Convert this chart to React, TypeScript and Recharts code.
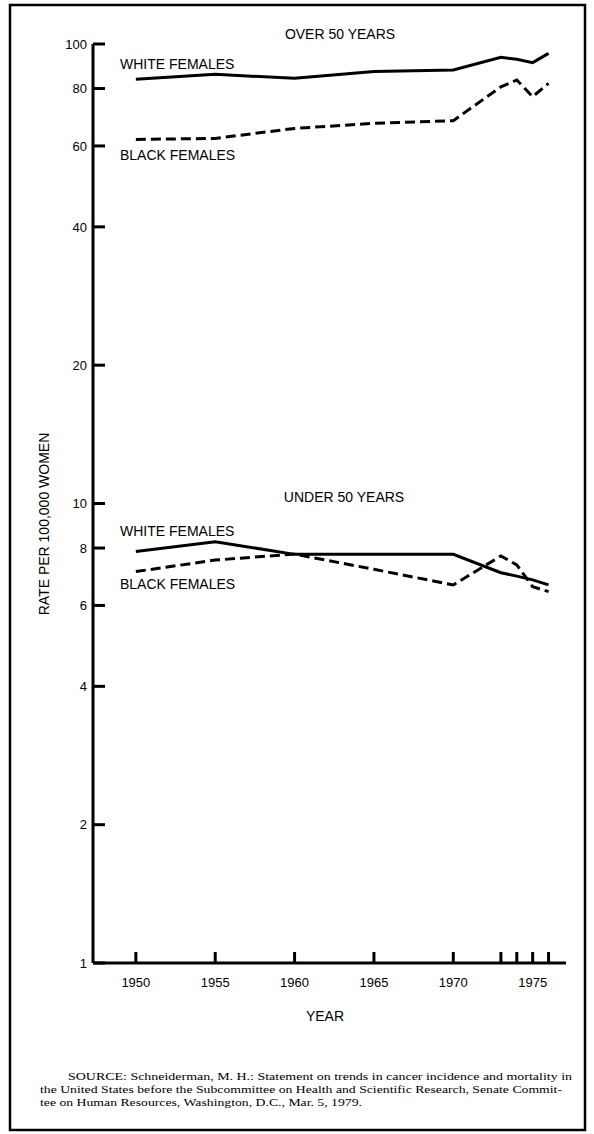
import { LineChart, Line, XAxis, YAxis } from 'recharts';

// years on the x axis (tick marks at every listed year)
const years = [1950, 1955, 1960, 1965, 1970, 1973, 1974, 1975, 1976];
const labeledYears = [1950, 1955, 1960, 1965, 1970, 1975];

// rate per 100,000 women
const over50White = [83.8, 85.9, 84.2, 87.1, 87.8, 93.6, 92.6, 91.1, 95.4];
const over50Black = [62.0, 62.3, 65.5, 67.2, 68.1, 80.7, 83.5, 76.8, 82.1];
const under50White = [7.86, 8.26, 7.75, 7.75, 7.75, 7.07, 6.95, 6.82, 6.65];
const under50Black = [7.11, 7.53, 7.76, 7.19, 6.65, 7.69, 7.35, 6.59, 6.43];

const yTicks = [1, 2, 4, 6, 8, 10, 20, 40, 60, 80, 100];

const sourceLines = [
  'SOURCE: Schneiderman, M. H.: Statement on trends in cancer incidence and mortality in',
  'the United States before the Subcommittee on Health and Scientific Research, Senate Commit-',
  'tee on Human Resources, Washington, D.C., Mar. 5, 1979.',
];

const data = years.map((year, i) => ({
  year,
  over50White: over50White[i],
  over50Black: over50Black[i],
  under50White: under50White[i],
  under50Black: under50Black[i],
}));

const SANS = '"Liberation Sans", Arial, Helvetica, sans-serif';
const SERIF = '"Liberation Serif", "Times New Roman", serif';

const XTick = (props: any) => {
  const { x, y, payload } = props;
  const yr = payload.value;
  return (
    <g>
      <line x1={x} x2={x} y1={y} y2={y - 11} stroke="#000" strokeWidth={3} />
      {labeledYears.includes(yr) && (
        <text x={x} y={y + 24} textAnchor="middle" fontFamily={SANS} fontSize={13} fill="#000">
          {yr}
        </text>
      )}
    </g>
  );
};

const YTick = (props: any) => {
  const { x, y, payload } = props;
  return (
    <g>
      <line x1={x} x2={x + 12} y1={y} y2={y} stroke="#000" strokeWidth={3} />
      <text x={x - 6} y={y} dy="0.36em" textAnchor="end" fontFamily={SANS} fontSize={13} fill="#000">
        {payload.value}
      </text>
    </g>
  );
};

export default function App() {
  return (
    <div style={{ position: 'absolute', left: 0, top: 0, width: 594, height: 1134, background: '#fff' }}>
      <LineChart
        width={594}
        height={1134}
        data={data}
        margin={{ top: 44, right: 28, bottom: 131, left: 33 }}
      >
        <XAxis
          dataKey="year"
          type="number"
          domain={[1947.3, 1977.1]}
          allowDataOverflow
          ticks={years}
          interval={0}
          height={40}
          tickSize={0}
          tickMargin={0}
          tickLine={false}
          axisLine={{ stroke: '#000', strokeWidth: 3 }}
          tick={(p: any) => <XTick {...p} />}
        />
        <YAxis
          type="number"
          scale="log"
          domain={[1, 100]}
          allowDataOverflow
          ticks={yTicks}
          interval={0}
          width={60}
          tickSize={0}
          tickMargin={0}
          tickLine={false}
          axisLine={{ stroke: '#000', strokeWidth: 3 }}
          tick={(p: any) => <YTick {...p} />}
        />
        <Line dataKey="over50White" stroke="#000" strokeWidth={3} dot={false} type="linear" isAnimationActive={false} />
        <Line dataKey="over50Black" stroke="#000" strokeWidth={3} strokeDasharray="10 5" dot={false} type="linear" isAnimationActive={false} />
        <Line dataKey="under50White" stroke="#000" strokeWidth={3} dot={false} type="linear" isAnimationActive={false} />
        <Line dataKey="under50Black" stroke="#000" strokeWidth={3} strokeDasharray="10 5" dot={false} type="linear" isAnimationActive={false} />
      </LineChart>
      <svg
        width={594}
        height={1134}
        style={{ position: 'absolute', left: 0, top: 0, pointerEvents: 'none' }}
      >
        <rect x={10} y={5} width={575} height={1125} fill="none" stroke="#000" strokeWidth={2.5} />
        <g fontFamily={SANS} fontSize={14} fill="#000">
          <text x={340} y={39} textAnchor="middle">OVER 50 YEARS</text>
          <text x={120} y={69}>WHITE FEMALES</text>
          <text x={120} y={160}>BLACK FEMALES</text>
          <text x={344} y={502} textAnchor="middle">UNDER 50 YEARS</text>
          <text x={120} y={536}>WHITE FEMALES</text>
          <text x={120} y={589}>BLACK FEMALES</text>
          <text x={325} y={1021} textAnchor="middle">YEAR</text>
          <text x={0} y={0} textAnchor="middle" transform="translate(49,524) rotate(-90)">
            RATE PER 100,000 WOMEN
          </text>
        </g>
        <g fontFamily={SERIF} fontSize={11} fill="#000">
          <text x={68} y={1080} textLength={504} lengthAdjust="spacingAndGlyphs">{sourceLines[0]}</text>
          <text x={40} y={1093} textLength={522} lengthAdjust="spacingAndGlyphs">{sourceLines[1]}</text>
          <text x={40} y={1106} textLength={322} lengthAdjust="spacingAndGlyphs">{sourceLines[2]}</text>
        </g>
      </svg>
    </div>
  );
}
